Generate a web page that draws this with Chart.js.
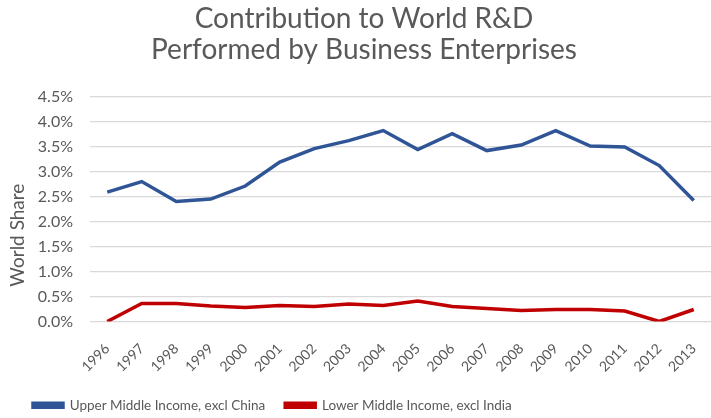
<!DOCTYPE html>
<html><head><meta charset="utf-8">
<script src="https://cdn.jsdelivr.net/npm/chart.js@4"></script>
<style>html,body{margin:0;padding:0;background:#fff;overflow:hidden}#wrap{width:711px;height:418px}</style>
</head><body><div id="wrap"><canvas id="c" width="711" height="418"></canvas></div>
<script>
const years = ['1996','1997','1998','1999','2000','2001','2002','2003','2004','2005','2006','2007','2008','2009','2010','2011','2012','2013'];
const upperMiddle = [2.59,2.80,2.40,2.45,2.71,3.19,3.46,3.62,3.82,3.44,3.76,3.42,3.53,3.82,3.51,3.49,3.12,2.42];
const lowerMiddle = [0.00,0.36,0.36,0.31,0.28,0.32,0.30,0.35,0.32,0.41,0.30,0.26,0.22,0.24,0.24,0.21,0.00,0.24];
const seriesNames = ['Upper Middle Income, excl China','Lower Middle Income, excl India'];
const titleLines = ['Contribution to World R&D','Performed by Business Enterprises'];
const yAxisTitle = 'World Share';

const FONT = 'Lato, "Open Sans", sans-serif';
const GRAY = '#595959';

const yTitlePlugin = {
  id: 'yTitle',
  afterDraw(chart) {
    const {ctx, chartArea: a} = chart;
    ctx.save();
    ctx.translate(17.5, a.top + (a.bottom - a.top) * 0.616);
    ctx.rotate(-Math.PI / 2);
    ctx.textAlign = 'center';
    ctx.textBaseline = 'middle';
    ctx.fillStyle = GRAY;
    ctx.font = '19px ' + FONT;
    ctx.fillText(yAxisTitle, 0, 0);
    ctx.restore();
  }
};

new Chart(document.getElementById('c'), {
  type: 'line',
  data: {
    labels: years,
    datasets: [
      {label: seriesNames[0], data: upperMiddle, borderColor: '#2F5597', backgroundColor: '#2F5597', borderWidth: 3.5, pointRadius: 0, tension: 0},
      {label: seriesNames[1], data: lowerMiddle, borderColor: '#C00000', backgroundColor: '#C00000', borderWidth: 3.5, pointRadius: 0, tension: 0}
    ]
  },
  plugins: [yTitlePlugin],
  options: {
    responsive: false,
    animation: false,
    layout: {padding: {left: 13, right: -4, top: 0, bottom: -4}},
    plugins: {
      title: {display: true, text: titleLines, color: GRAY, font: {family: FONT, size: 28, weight: 'normal', lineHeight: 1.1}, padding: {top: 4, bottom: 31}},
      legend: {position: 'bottom', align: 'start', labels: {color: GRAY, font: {family: FONT, size: 13.5}, boxWidth: 30, boxHeight: 4, padding: 20}},
      tooltip: {enabled: false}
    },
    scales: {
      x: {
        offset: true,
        grid: {display: false, drawTicks: false},
        border: {display: false},
        ticks: {color: GRAY, font: {family: FONT, size: 14}, minRotation: 45, maxRotation: 45, autoSkip: false, padding: 19},
        afterFit: s => { s.height = 57; s.paddingLeft = 0; s.paddingRight = 0; }
      },
      y: {
        min: 0, max: 4.5,
        border: {display: false},
        grid: {color: '#D9D9D9', lineWidth: 1.3, drawTicks: false},
        ticks: {stepSize: 0.5, color: GRAY, font: {family: FONT, size: 16}, padding: 17, callback: v => v.toFixed(1) + '%'},
        afterFit: s => { s.width = 77; }
      }
    }
  }
});
</script></body></html>
